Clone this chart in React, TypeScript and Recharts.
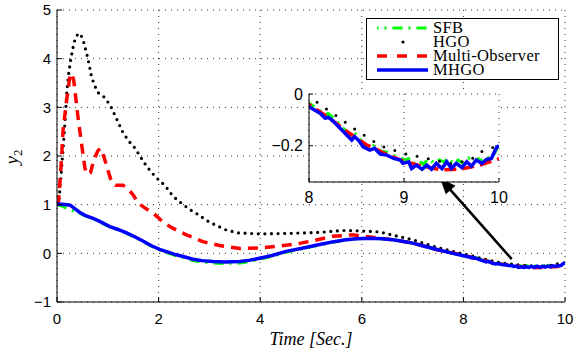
import { LineChart, Line, XAxis, YAxis, CartesianGrid, ReferenceLine, Label } from "recharts";

// time / value pairs
const sfbTime = [0, 0.1, 0.22, 0.35, 0.45, 0.58, 0.71, 0.85, 1.04, 1.2, 1.37, 1.55, 1.7, 1.85, 2.02, 2.2, 2.35, 2.52, 2.68, 2.85, 3.07, 3.3, 3.6, 3.8, 3.99, 4.25, 4.51, 4.85, 5.17, 5.45, 5.69, 5.9, 6.15, 6.4, 6.61, 6.8, 7.0, 7.25, 7.52, 7.75,
  8.0, 8.1, 8.17, 8.2, 8.25, 8.33, 8.4, 8.45, 8.48, 8.52, 8.57, 8.64, 8.69, 8.75, 8.82, 8.89, 8.96, 9.0, 9.05, 9.1, 9.15, 9.2, 9.26, 9.32, 9.37, 9.42, 9.47, 9.52, 9.57, 9.63, 9.68, 9.73, 9.78, 9.84, 9.89, 9.94, 9.98, 10];
const sfbValue = [1.0, 0.97, 0.91, 0.86, 0.82, 0.76, 0.71, 0.64, 0.54, 0.48, 0.41, 0.32, 0.24, 0.15, 0.07, 0.0, -0.05, -0.1, -0.15, -0.18, -0.2, -0.21, -0.2, -0.17, -0.12, -0.06, 0.02, 0.1, 0.17, 0.23, 0.28, 0.3, 0.31, 0.3, 0.28, 0.25, 0.21, 0.14, 0.07, 0.01,
  -0.035, -0.06, -0.083, -0.075, -0.09, -0.12, -0.148, -0.16, -0.15, -0.165, -0.19, -0.205, -0.198, -0.22, -0.225, -0.237, -0.245, -0.255, -0.25, -0.27, -0.255, -0.272, -0.25, -0.268, -0.255, -0.262, -0.248, -0.27, -0.255, -0.27, -0.248, -0.265, -0.25, -0.26, -0.245, -0.24, -0.21, -0.2];

const hgoTime = [0, 0.04, 0.08, 0.12, 0.16, 0.19, 0.22, 0.27, 0.32, 0.36, 0.42, 0.47, 0.52, 0.56, 0.6, 0.64, 0.68, 0.74, 0.81, 0.93, 1.05, 1.17, 1.29, 1.41, 1.53, 1.65, 1.77, 1.89, 2.0, 2.13, 2.25, 2.37, 2.49, 2.61, 2.73, 3.0, 3.33, 3.56, 4.0, 4.58, 5.17, 5.62, 6.0, 6.35, 6.67, 7.0, 7.39, 7.79,
  8.0, 8.25, 8.5, 8.75, 9.0, 9.25, 9.5, 9.7, 9.8, 9.9, 10];
const hgoValue = [1.0, 1.1, 1.6, 2.15, 2.74, 3.26, 3.62, 3.98, 4.25, 4.42, 4.52, 4.49, 4.36, 4.2, 4.04, 3.84, 3.63, 3.45, 3.3, 3.21, 3.04, 2.77, 2.5, 2.31, 2.17, 1.97, 1.78, 1.63, 1.51, 1.39, 1.22, 1.09, 1.0, 0.9, 0.83, 0.64, 0.48, 0.42, 0.4, 0.41, 0.43, 0.47, 0.46, 0.44, 0.36, 0.28, 0.15, 0.04,
  -0.01, -0.075, -0.14, -0.2, -0.23, -0.25, -0.27, -0.255, -0.225, -0.21, -0.2];

const multiTime = [0, 0.03, 0.08, 0.12, 0.19, 0.25, 0.29, 0.33, 0.38, 0.42, 0.49, 0.55, 0.6, 0.66, 0.72, 0.8, 0.85, 0.92, 0.98, 1.07, 1.15, 1.3, 1.4, 1.5, 1.6, 1.75, 1.9, 2.05, 2.22, 2.4, 2.55, 2.87, 3.2, 3.6, 4.0, 4.4, 4.8, 5.04, 5.43, 5.82, 6.2, 6.6, 7.0, 7.5,
  8.0, 8.2, 8.4, 8.6, 8.8, 9.0, 9.2, 9.4, 9.6, 9.8, 10];
const multiValue = [1.0, 1.07, 1.8, 2.54, 3.15, 3.6, 3.7, 3.55, 3.1, 2.74, 2.2, 1.75, 1.62, 1.66, 1.9, 2.1, 2.16, 2.0, 1.78, 1.48, 1.4, 1.4, 1.32, 1.2, 1.03, 0.92, 0.82, 0.68, 0.55, 0.45, 0.38, 0.24, 0.16, 0.1, 0.11, 0.15, 0.21, 0.26, 0.35, 0.38, 0.33, 0.28, 0.21, 0.07,
  -0.04, -0.09, -0.145, -0.195, -0.23, -0.26, -0.28, -0.293, -0.29, -0.275, -0.25];

const mhgoTime = [0, 0.1, 0.2, 0.26, 0.35, 0.45, 0.55, 0.71, 0.85, 1.04, 1.2, 1.37, 1.55, 1.7, 1.85, 2.02, 2.2, 2.35, 2.5, 2.68, 2.85, 3.07, 3.3, 3.6, 3.8, 3.99, 4.25, 4.51, 4.85, 5.17, 5.45, 5.69, 5.9, 6.15, 6.4, 6.61, 6.8, 7.0, 7.25, 7.52, 7.75,
  8.0, 8.12, 8.17, 8.2, 8.24, 8.33, 8.4, 8.45, 8.48, 8.52, 8.57, 8.64, 8.69, 8.75, 8.82, 8.89, 8.96, 8.99, 9.05, 9.08, 9.13, 9.19, 9.24, 9.29, 9.34, 9.4, 9.45, 9.5, 9.55, 9.61, 9.66, 9.71, 9.76, 9.82, 9.87, 9.92, 9.96, 9.98, 10];
const mhgoValue = [1.01, 1.01, 1.0, 0.99, 0.92, 0.84, 0.78, 0.72, 0.65, 0.55, 0.49, 0.42, 0.33, 0.25, 0.16, 0.08, 0.02, -0.03, -0.07, -0.12, -0.15, -0.17, -0.18, -0.17, -0.14, -0.1, -0.04, 0.04, 0.11, 0.18, 0.24, 0.28, 0.3, 0.31, 0.3, 0.28, 0.25, 0.21, 0.14, 0.07, 0.01,
  -0.049, -0.075, -0.094, -0.09, -0.1, -0.133, -0.159, -0.178, -0.165, -0.178, -0.204, -0.217, -0.21, -0.232, -0.236, -0.249, -0.255, -0.268, -0.262, -0.288, -0.275, -0.291, -0.275, -0.291, -0.268, -0.288, -0.262, -0.288, -0.268, -0.284, -0.262, -0.279, -0.255, -0.268, -0.253, -0.249, -0.217, -0.204, -0.2];

const xTicks = [0, 2, 4, 6, 8, 10];
const yTicks = [-1, 0, 1, 2, 3, 4, 5];
const insetXTicks = [8, 9, 10];
const insetYTicks = [-0.2, 0];

const toPoints = (t: number[], v: number[]) => t.map((x, i) => ({ t: x, y: v[i] }));
const sfb = toPoints(sfbTime, sfbValue);
const hgo = toPoints(hgoTime, hgoValue);
const multi = toPoints(multiTime, multiValue);
const mhgo = toPoints(mhgoTime, mhgoValue);

const fmt = (v: number) => String(v).replace("-", "\u2212");
const tickFont = { fontFamily: "Liberation Sans, Arial, sans-serif", fill: "#000" };

const YLabel = ({ viewBox }: any) => {
  const cx = viewBox.x + 18;
  const cy = viewBox.y + viewBox.height / 2 + 1;
  return (
    <text transform={`translate(${cx},${cy}) rotate(-90)`} textAnchor="middle" fontFamily="Liberation Serif, serif" fill="#000">
      <tspan fontStyle="italic" fontSize={19}>y</tspan>
      <tspan fontSize={13} dy={4}>2</tspan>
    </text>
  );
};

const XLabel = ({ viewBox }: any) => (
  <text x={viewBox.x + viewBox.width / 2} y={viewBox.y + 43} textAnchor="middle" fontFamily="Liberation Serif, serif" fontStyle="italic" fontSize={18} fill="#000">
    Time [Sec.]
  </text>
);

const Arrow = (props: any) => {
  const { x1, y1, x2, y2 } = props;
  const ang = Math.atan2(y2 - y1, x2 - x1);
  const len = 16, half = 6.5;
  const bx = x2 - len * Math.cos(ang), by = y2 - len * Math.sin(ang);
  const px = -Math.sin(ang) * half, py = Math.cos(ang) * half;
  return (
    <g>
      <line x1={x1} y1={y1} x2={bx + 4 * Math.cos(ang)} y2={by + 4 * Math.sin(ang)} stroke="#000" strokeWidth={2.6} />
      <polygon points={`${x2},${y2} ${bx + px},${by + py} ${bx - px},${by - py}`} fill="#000" />
    </g>
  );
};

const legendItems = [
  { name: "SFB", color: "#00ff00", dash: "10 6 2 6", width: 3 },
  { name: "HGO", color: "#000", dash: "dot", width: 3 },
  { name: "Multi-Observer", color: "#ff0000", dash: "10 10", width: 3.5 },
  { name: "MHGO", color: "#0000ff", dash: "", width: 3.5 },
];

const ChartLegend = () => (
  <div style={{ position: "absolute", left: 366, top: 18, width: 193, height: 62, boxSizing: "border-box", border: "1px solid #000", background: "#fff" }}>
    {legendItems.map((item, i) => (
      <div key={item.name} style={{ position: "absolute", left: 0, top: 2 + i * 14.1, height: 14, width: 190 }}>
        <svg width={64} height={14} style={{ position: "absolute", left: 0, top: 0 }}>
          {item.dash === "dot" ? (
            <circle cx={36} cy={7} r={1.6} fill="#000" />
          ) : (
            <line x1={10} y1={7} x2={61} y2={7} stroke={item.color} strokeWidth={item.width} strokeDasharray={item.dash || undefined} strokeDashoffset={item.name === "SFB" ? 8.5 : 0} />
          )}
        </svg>
        <span style={{ position: "absolute", left: 66, top: 0, fontFamily: "Liberation Serif, serif", fontSize: 16.5, lineHeight: "14px", height: 14, whiteSpace: "nowrap", color: "#000", letterSpacing: 0.3 }}>
          {item.name}
        </span>
      </div>
    ))}
  </div>
);

export default function App() {
  return (
    <div style={{ position: "absolute", left: 0, top: 0, width: 576, height: 353, background: "#fff", overflow: "hidden" }}>
      <LineChart width={576} height={353} margin={{ top: 10, right: 11, bottom: 0, left: 0 }}>
        <CartesianGrid stroke="#333" strokeDasharray="1 5" />
        <XAxis dataKey="t" type="number" domain={[0, 10]} ticks={xTicks} height={51} tickSize={-5} tickMargin={16}
          axisLine={{ stroke: "#000" }} tickLine={{ stroke: "#000" }} tick={{ ...tickFont, fontSize: 15 }} tickFormatter={fmt} allowDataOverflow>
          <Label content={XLabel} />
        </XAxis>
        <XAxis xAxisId="top" orientation="top" type="number" domain={[0, 10]} ticks={xTicks} height={0} tickSize={-5} tick={false}
          axisLine={{ stroke: "#000" }} tickLine={{ stroke: "#000" }} />
        <YAxis type="number" domain={[-1, 5]} ticks={yTicks} width={57} tickSize={-5} tickMargin={11}
          axisLine={{ stroke: "#000" }} tickLine={{ stroke: "#000" }} tick={{ ...tickFont, fontSize: 15 }} tickFormatter={fmt} allowDataOverflow>
          <Label content={YLabel} />
        </YAxis>
        <YAxis yAxisId="right" orientation="right" type="number" domain={[-1, 5]} ticks={yTicks} width={0} tickSize={-5} tick={false}
          axisLine={{ stroke: "#000" }} tickLine={{ stroke: "#000" }} />
        <Line data={sfb} dataKey="y" name="SFB" stroke="#00ff00" strokeWidth={3} strokeDasharray="10 6 2 6" dot={false} activeDot={false} isAnimationActive={false} />
        <Line data={hgo} dataKey="y" name="HGO" stroke="#000" strokeWidth={3.2} strokeDasharray="0 6.6" strokeLinecap="round" dot={false} activeDot={false} isAnimationActive={false} />
        <Line data={multi} dataKey="y" name="Multi-Observer" stroke="#ff0000" strokeWidth={3.5} strokeDasharray="10 7" dot={false} activeDot={false} isAnimationActive={false} />
        <Line data={mhgo} dataKey="y" name="MHGO" stroke="#0000ff" strokeWidth={3.5} dot={false} activeDot={false} isAnimationActive={false} />
        <ReferenceLine segment={[{ x: 8.95, y: -0.117 }, { x: 7.54, y: 1.547 }]} shape={Arrow} />
      </LineChart>

      <div style={{ position: "absolute", left: 259, top: 84 }}>
        <LineChart width={250} height={128} margin={{ top: 10, right: 10, bottom: 0, left: 0 }}>
          <CartesianGrid stroke="#333" strokeDasharray="1 5" fill="#fff" fillOpacity={1} />
          <XAxis dataKey="t" type="number" domain={[8, 10]} ticks={insetXTicks} height={30} tickSize={-4} tickMargin={14}
            axisLine={{ stroke: "#000" }} tickLine={{ stroke: "#000" }} tick={{ ...tickFont, fontSize: 16 }} allowDataOverflow />
          <XAxis xAxisId="top" orientation="top" type="number" domain={[8, 10]} ticks={insetXTicks} height={0} tickSize={-4} tick={false}
            axisLine={{ stroke: "#000" }} tickLine={{ stroke: "#000" }} />
          <YAxis type="number" domain={[-0.34, 0]} ticks={insetYTicks} width={50} tickSize={-4} tickMargin={10}
            axisLine={{ stroke: "#000" }} tickLine={{ stroke: "#000" }} tick={{ ...tickFont, fontSize: 16 }} tickFormatter={fmt} allowDataOverflow />
          <YAxis yAxisId="right" orientation="right" type="number" domain={[-0.34, 0]} ticks={insetYTicks} width={0} tickSize={-4} tick={false}
            axisLine={{ stroke: "#000" }} tickLine={{ stroke: "#000" }} />
          <Line data={sfb} dataKey="y" stroke="#00ff00" strokeWidth={3} strokeDasharray="10 6 2 6" dot={false} activeDot={false} isAnimationActive={false} />
          <Line data={hgo} dataKey="y" stroke="#000" strokeWidth={3} strokeDasharray="0 11.5" strokeLinecap="round" dot={false} activeDot={false} isAnimationActive={false} />
          <Line data={multi} dataKey="y" stroke="#ff0000" strokeWidth={3.5} strokeDasharray="12 6" dot={false} activeDot={false} isAnimationActive={false} />
          <Line data={mhgo} dataKey="y" stroke="#0000ff" strokeWidth={3.5} dot={false} activeDot={false} isAnimationActive={false} />
        </LineChart>
      </div>

      <ChartLegend />
    </div>
  );
}
